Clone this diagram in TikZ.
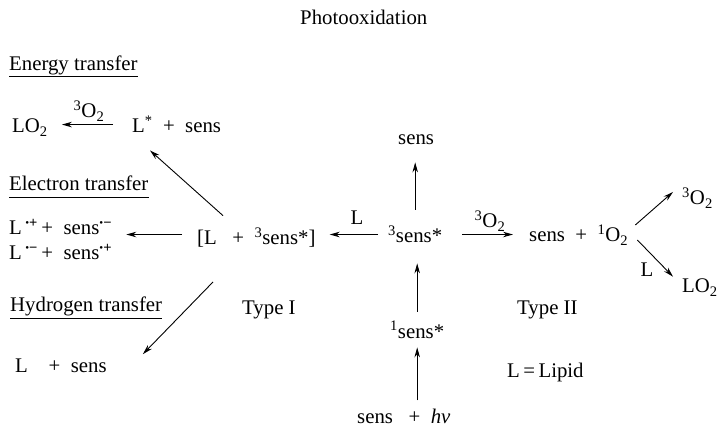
\documentclass[tikz,border=0pt]{standalone}
\usepackage{fontspec}
\setmainfont{Liberation Serif}
\usetikzlibrary{arrows.meta}
\newcommand{\raddot}{{\fontsize{11}{11}\selectfont\raisebox{0.5pt}{•}}}
\begin{document}
\begin{tikzpicture}[x=1pt,y=-1pt,
  txt/.style={inner sep=0pt,anchor=base west,font=\fontsize{20.8}{25}\selectfont},
  lbl/.style={inner sep=0pt,anchor=base,font=\fontsize{20.8}{25}\selectfont},
  arr/.style={line width=0.9pt,-{Stealth[length=10pt,width=5.5pt]}},
  uline/.style={line width=0.8pt}]
\useasboundingbox (0,0) rectangle (717,427);
% texts
\node[txt] (title) at (300,25) {Photooxidation};
\node[txt] (et) at (9,71) {Energy transfer};
\node[txt] (lo2a) at (12,133) {LO\textsubscript{2}};
\node[txt] (lstar) at (132,133) {L\textsuperscript{*}\enspace+\enspace sens};
\node[lbl] (o2lab1) at (89,118) {\textsuperscript{3}O\textsubscript{2}};
\node[txt] (elt) at (9,191) {Electron transfer};
\node[txt] (el1) at (9,235) {L\,\textsuperscript{\raddot\textbf{+}}\,+\enspace sens\textsuperscript{\raddot\textbf{−}}};
\node[txt] (el2) at (9,260) {L\,\textsuperscript{\raddot\textbf{−}}\,+\enspace sens\textsuperscript{\raddot\textbf{+}}};
\node[txt] (lsens) at (197,245) {[L\enspace\ +\enspace\textsuperscript{3}sens*]};
\node[txt] (s3) at (388,243) {\textsuperscript{3}sens*};
\node[txt] (senstop) at (398,145) {sens};
\node[lbl] (llab) at (357,225) {L};
\node[lbl] (o2lab2) at (490,228) {\textsuperscript{3}O\textsubscript{2}};
\node[txt] (so2) at (529,242) {sens\enspace+\enspace\textsuperscript{1}O\textsubscript{2}};
\node[txt] (o2up) at (682,205) {\textsuperscript{3}O\textsubscript{2}};
\node[txt] (lo2b) at (682,293) {LO\textsubscript{2}};
\node[lbl] (llab2) at (647,277) {L};
\node[txt] (type2) at (517,315) {Type II};
\node[txt] (type1) at (242,315) {Type I};
\node[txt] (ht) at (10,312) {Hydrogen transfer};
\node[txt] (lsens2) at (15,372) {L\quad+\enspace sens};
\node[txt] (s1) at (390,338) {\textsuperscript{1}sens*};
\node[txt] (shv) at (357,423) {sens\enspace\ +\enspace\textit{hν}};
\node[txt] (lipid) at (507,377) {L\,=\,Lipid};
% underlines
\draw[uline] ([yshift=-5pt]et.base west) -- ([yshift=-5pt]et.base east);
\draw[uline] ([yshift=-6pt]elt.base west) -- ([yshift=-6pt]elt.base east);
\draw[uline] ([yshift=-6pt]ht.base west) -- ([yshift=-6pt]ht.base east);
% arrows
\draw[arr,shorten <=19pt,shorten >=14pt] (lstar.west) -- (lstar.west -| lo2a.east);
\draw[arr,shorten <=15pt,shorten >=14pt] (lsens.west |- s3.west) -- (s3.west -| el1.east);
\draw[arr,shorten <=10pt,shorten >=14pt] (s3.west) -- (s3.west -| lsens.east);
\draw[arr,shorten <=20pt,shorten >=16pt] (s3.east) -- (s3.east -| so2.west);
\draw[arr,shorten <=16pt,shorten >=17pt] (s3.north) -- (s3.north |- senstop.south);
\draw[arr,shorten <=9pt,shorten >=20pt] (s1.north) -- (s1.north |- s3.south);
\draw[arr,shorten <=8pt,shorten >=9pt] (s1.south |- shv.north) -- (s1.south);
\draw[arr] ([xshift=26pt,yshift=12pt]lsens.north west) -- ([xshift=18pt,yshift=-17pt]lstar.south west);
\draw[arr] ([xshift=16pt,yshift=-34pt]lsens.south west) -- ([xshift=36pt,yshift=4pt]lsens2.north east);
\draw[arr] ([xshift=7pt,yshift=10pt]so2.east) -- ([xshift=-9pt,yshift=6pt]o2up.west);
\draw[arr] ([xshift=9pt,yshift=-5pt]so2.east) -- ([xshift=-9pt,yshift=11pt]lo2b.west);
\end{tikzpicture}
\end{document}
